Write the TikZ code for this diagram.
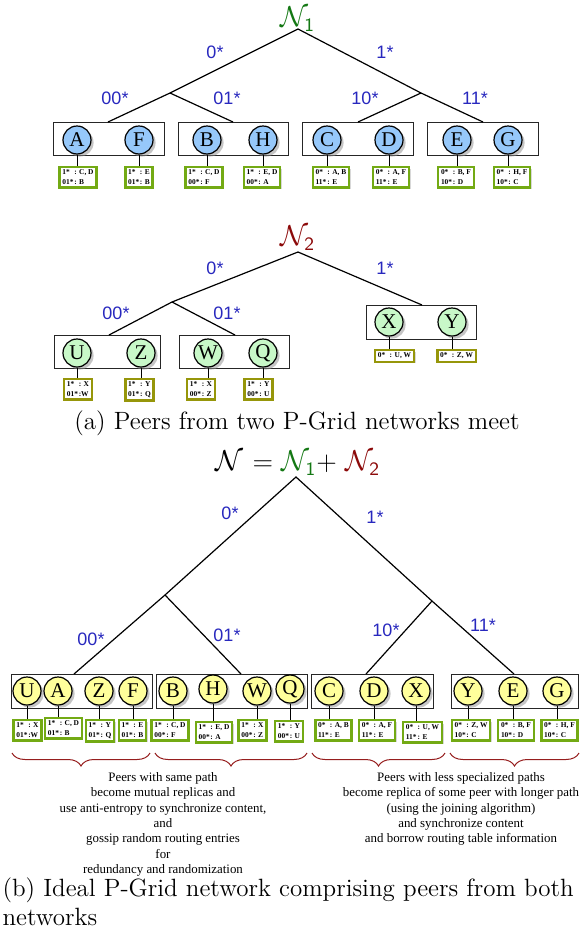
\documentclass[tikz,border=0pt]{standalone}
\usepackage{fontspec}
\usepackage{tikz}
\usetikzlibrary{shadows,decorations.pathreplacing}
\newfontfamily\peerfont{Liberation Serif}
\newfontfamily\labfont{Liberation Sans}
\definecolor{peerblue}{RGB}{150,200,250}
\definecolor{peergreen}{RGB}{200,248,200}
\definecolor{peeryellow}{RGB}{255,255,155}
\definecolor{tabgreen}{RGB}{115,170,20}
\definecolor{tabolive}{RGB}{150,150,10}
\definecolor{labblue}{RGB}{40,40,190}
\definecolor{ngreen}{RGB}{20,120,20}
\definecolor{nred}{RGB}{140,10,10}
\definecolor{bracered}{RGB}{150,30,30}
% one entry of a routing table
\newcommand{\rte}[2]{\makebox[1.6em][l]{#1}#2}

\begin{document}
\begin{tikzpicture}
[x=0.5pt,y=-0.5pt, line width=0.6pt,
 peer/.style={draw,circle,minimum size=14pt,inner sep=0pt,font=\peerfont\fontsize{10.5}{11}\selectfont,
   drop shadow={shadow xshift=1.3pt,shadow yshift=-1.3pt,fill=black!45}},
 group/.style={draw=black!85,line width=0.5pt,inner sep=0pt},
 rt/.style={draw=tabgreen,line width=1.2pt,fill=white,anchor=north,inner sep=1.4pt,align=left,
   font=\peerfont\bfseries\fontsize{3.7}{4.9}\selectfont,
   drop shadow={shadow xshift=0.8pt,shadow yshift=-0.8pt,fill=black!30}},
 edgelab/.style={text=labblue,font=\labfont\fontsize{9}{10}\selectfont},
 ttl/.style={inner sep=1pt,font=\fontsize{13.5}{15}\selectfont},
 brace/.style={draw=bracered,line width=0.5pt,decorate,decoration={brace,mirror,amplitude=6.5pt}},
 expl/.style={anchor=north,align=center,font=\peerfont\fontsize{6.45}{7.7}\selectfont},
 capt/.style={font=\fontsize{12.5}{14.5}\selectfont}]

\useasboundingbox (0,0) rectangle (579,932);

%%%%%%%%%%%%%%%%%% network N1
\node[ttl,text=ngreen] (N1) at (298,19) {$\mathcal{N}_{\mathsf{1}}$};

% the coordinates of the tree
\coordinate (tR) at (298,29);
\coordinate (t0) at (170,93);
\coordinate (t1) at (421,93);
\coordinate (t00) at (108,122);
\coordinate (t01) at (233,122);
\coordinate (t10) at (358,122);
\coordinate (t11) at (483,122);

% the groups of peers
\node[group,minimum width=55.5pt,minimum height=16.5pt] (tAF) at (108.5,138.5) {};
\node[group,minimum width=55pt,minimum height=16.5pt] (tBH) at (233,138.5) {};
\node[group,minimum width=55.5pt,minimum height=16.5pt] (tCD) at (357.5,138.5) {};
\node[group,minimum width=55.5pt,minimum height=16.5pt] (tEG) at (482.5,138.5) {};

% the edges of the tree
\draw (t00) -- (t0) -- (tR) -- (t1) -- (t11);
\draw (t0) -- (t01);
\draw (t1) -- (t10);

\node[edgelab] (tl0) at (215,52) {0*};
\node[edgelab] (tl1) at (385,52) {1*};
\node[edgelab] (tl00) at (115,98) {00*};
\node[edgelab] (tl01) at (227,98) {01*};
\node[edgelab] (tl10) at (365,98) {10*};
\node[edgelab] (tl11) at (475,98) {11*};

% the peers and their routing tables
\node[peer,fill=peerblue] (tA) at (77,140) {A};
\node[peer,fill=peerblue] (tF) at (139,140) {F};
\node[peer,fill=peerblue] (tB) at (207,140) {B};
\node[peer,fill=peerblue] (tH) at (263,140) {H};
\node[peer,fill=peerblue] (tC) at (327,140) {C};
\node[peer,fill=peerblue] (tD) at (389,140) {D};
\node[peer,fill=peerblue] (tE) at (457,140) {E};
\node[peer,fill=peerblue] (tG) at (508,140) {G};

\node[rt] (rtA) at (78,166) {\rte{1*}{: C, D}\\ \rte{01*}{: B}};
\node[rt] (rtF) at (139,166) {\rte{1*}{: E}\\ \rte{01*}{: B}};
\node[rt] (rtB) at (204,166) {\rte{1*}{: C, D}\\ \rte{00*}{: F}};
\node[rt] (rtH) at (262,166) {\rte{1*}{: E, D}\\ \rte{00*}{: A}};
\node[rt] (rtC) at (331,166) {\rte{0*}{: A, B}\\ \rte{11*}{: E}};
\node[rt] (rtD) at (391,166) {\rte{0*}{: A, F}\\ \rte{11*}{: E}};
\node[rt] (rtE) at (456,166) {\rte{0*}{: B, F}\\ \rte{10*}{: D}};
\node[rt] (rtG) at (512,166) {\rte{0*}{: H, F}\\ \rte{10*}{: C}};

%%%%%%%%%%%%%%%%%% network N2
\node[ttl,text=nred] (N2) at (298,238) {$\mathcal{N}_{\mathsf{2}}$};

\coordinate (mR) at (298,252);
\coordinate (m0) at (172,302);
\coordinate (m00) at (109,335);
\coordinate (m01) at (235,335);
\coordinate (m1) at (422,305);

\node[group,minimum width=53pt,minimum height=16.5pt] (mUZ) at (107,351.5) {};
\node[group,minimum width=55pt,minimum height=16.5pt] (mWQ) at (234,351.5) {};
\node[group,minimum width=55pt,minimum height=17pt] (mXY) at (421,322) {};

\draw (m00) -- (m0) -- (mR) -- (m1);
\draw (m0) -- (m01);

\node[edgelab] (ml0) at (215,268) {0*};
\node[edgelab] (ml1) at (385,268) {1*};
\node[edgelab] (ml00) at (116,313) {00*};
\node[edgelab] (ml01) at (227,313) {01*};

\node[peer,fill=peergreen] (mU) at (77,353) {U};
\node[peer,fill=peergreen] (mZ) at (141,353) {Z};
\node[peer,fill=peergreen] (mW) at (208,353) {W};
\node[peer,fill=peergreen] (mQ) at (263,353) {Q};
\node[peer,fill=peergreen] (mX) at (389,322) {X};
\node[peer,fill=peergreen] (mY) at (452,322) {Y};

\node[rt,draw=tabolive] (rmU) at (78,378) {\rte{1*}{: X}\\ \rte{01*}{:W}};
\node[rt,draw=tabolive] (rmZ) at (139.5,378) {\rte{1*}{: Y}\\ \rte{01*}{: Q}};
\node[rt,draw=tabolive] (rmW) at (201,378) {\rte{1*}{: X}\\ \rte{00*}{: Z}};
\node[rt,draw=tabolive] (rmQ) at (258.5,378) {\rte{1*}{: Y}\\ \rte{00*}{: U}};
\node[rt,draw=tabolive] (rmX) at (394.5,349) {\rte{0*}{: U, W}};
\node[rt,draw=tabolive] (rmY) at (456.5,349) {\rte{0*}{: Z, W}};

\node[capt] (capa) at (297,423) {(a) Peers from two P-Grid networks meet};

%%%%%%%%%%%%%%%%%% network N = N1 + N2
\node[ttl] (N) at (298,463) {$\mathcal{N}$ = \textcolor{ngreen}{$\mathcal{N}_{\mathsf{1}}$}+ \textcolor{nred}{$\mathcal{N}_{\mathsf{2}}$}};

\coordinate (bR) at (296,477);
\coordinate (b0) at (165,595);
\coordinate (b1) at (432,601);
\coordinate (b00) at (74,674);
\coordinate (b01) at (241,674);
\coordinate (b10) at (366,674);
\coordinate (b11) at (514,674);

\node[group,minimum width=70.5pt,minimum height=17pt] (g1) at (81.5,691) {};
\node[group,minimum width=75.5pt,minimum height=17pt] (g2) at (231.5,691) {};
\node[group,minimum width=61pt,minimum height=17pt] (g3) at (372,691) {};
\node[group,minimum width=63.5pt,minimum height=17pt] (g4) at (514.5,691) {};

\draw (b00) -- (b0) -- (bR) -- (b1) -- (b11);
\draw (b0) -- (b01);
\draw (b1) -- (b10);

\node[edgelab] (bl0) at (230,513) {0*};
\node[edgelab] (bl1) at (375,517) {1*};
\node[edgelab] (bl00) at (91,639) {00*};
\node[edgelab] (bl01) at (227,635) {01*};
\node[edgelab] (bl10) at (386,630) {10*};
\node[edgelab] (bl11) at (483,625) {11*};

\node[peer,fill=peeryellow] (bU) at (27,691) {U};
\node[peer,fill=peeryellow] (bA) at (58,691) {A};
\node[peer,fill=peeryellow] (bZ) at (99,691) {Z};
\node[peer,fill=peeryellow] (bF) at (133,691) {F};
\node[peer,fill=peeryellow] (bB) at (173,691) {B};
\node[peer,fill=peeryellow] (bH) at (213,689) {H};
\node[peer,fill=peeryellow] (bW) at (257,691) {W};
\node[peer,fill=peeryellow] (bQ) at (290,689) {Q};
\node[peer,fill=peeryellow] (bC) at (329,691) {C};
\node[peer,fill=peeryellow] (bD) at (374,691) {D};
\node[peer,fill=peeryellow] (bX) at (416,691) {X};
\node[peer,fill=peeryellow] (bY) at (468,691) {Y};
\node[peer,fill=peeryellow] (bE) at (513,691) {E};
\node[peer,fill=peeryellow] (bG) at (557,691) {G};

\node[rt] (rbU) at (27.5,719) {\rte{1*}{: X}\\ \rte{01*}{:W}};
\node[rt] (rbA) at (63.5,717) {\rte{1*}{: C, D}\\ \rte{01*}{: B}};
\node[rt] (rbZ) at (100,719) {\rte{1*}{: Y}\\ \rte{01*}{: Q}};
\node[rt] (rbF) at (132.5,719) {\rte{1*}{: E}\\ \rte{01*}{: B}};
\node[rt] (rbB) at (170,719) {\rte{1*}{: C, D}\\ \rte{00*}{: F}};
\node[rt] (rbH) at (214,721) {\rte{1*}{: E, D}\\ \rte{00*}{: A}};
\node[rt] (rbW) at (252.5,719) {\rte{1*}{: X}\\ \rte{00*}{: Z}};
\node[rt] (rbQ) at (289,720) {\rte{1*}{: Y}\\ \rte{00*}{: U}};
\node[rt] (rbC) at (333.5,719) {\rte{0*}{: A, B}\\ \rte{11*}{: E}};
\node[rt] (rbD) at (377,719) {\rte{0*}{: A, F}\\ \rte{11*}{: E}};
\node[rt] (rbX) at (422.5,721) {\rte{0*}{: U, W}\\ \rte{11*}{: E}};
\node[rt] (rbY) at (471,719) {\rte{0*}{: Z, W}\\ \rte{10*}{: C}};
\node[rt] (rbE) at (516,719) {\rte{0*}{: B, F}\\ \rte{10*}{: D}};
\node[rt] (rbG) at (559.5,719) {\rte{0*}{: H, F}\\ \rte{10*}{: C}};

% stems from the peers to their routing tables
\foreach \p in {tA,tF,tB,tH,tC,tD,tE,tG,mU,mZ,mW,mQ,mX,mY,
                bU,bA,bZ,bF,bB,bH,bW,bQ,bC,bD,bX,bY,bE,bG}
  \draw[line width=0.5pt] (\p.south) -- (\p.south |- r\p.north);

% the braces and their explanations
\draw[brace] (12,753) -- (150,753);
\draw[brace] (155,753) -- (307,753);
\draw[brace] (312,753) -- (445,753);
\draw[brace] (450,753) -- (579,753);

\node[expl] (same) at (163,765) {Peers with same path\\ become mutual replicas and\\ use anti-entropy to synchronize content,\\ and\\ gossip random routing entries\\ for\\ redundancy and randomization};
\node[expl] (less) at (461,765) {Peers with less specialized paths\\ become replica of some peer with longer path\\ (using the joining algorithm)\\ and synchronize content\\ and borrow routing table information};

\node[capt,anchor=north west,align=left,inner sep=0pt] (capb) at (2,877) {(b) Ideal P-Grid network comprising peers from both\\ networks};

\end{tikzpicture}
\end{document}
